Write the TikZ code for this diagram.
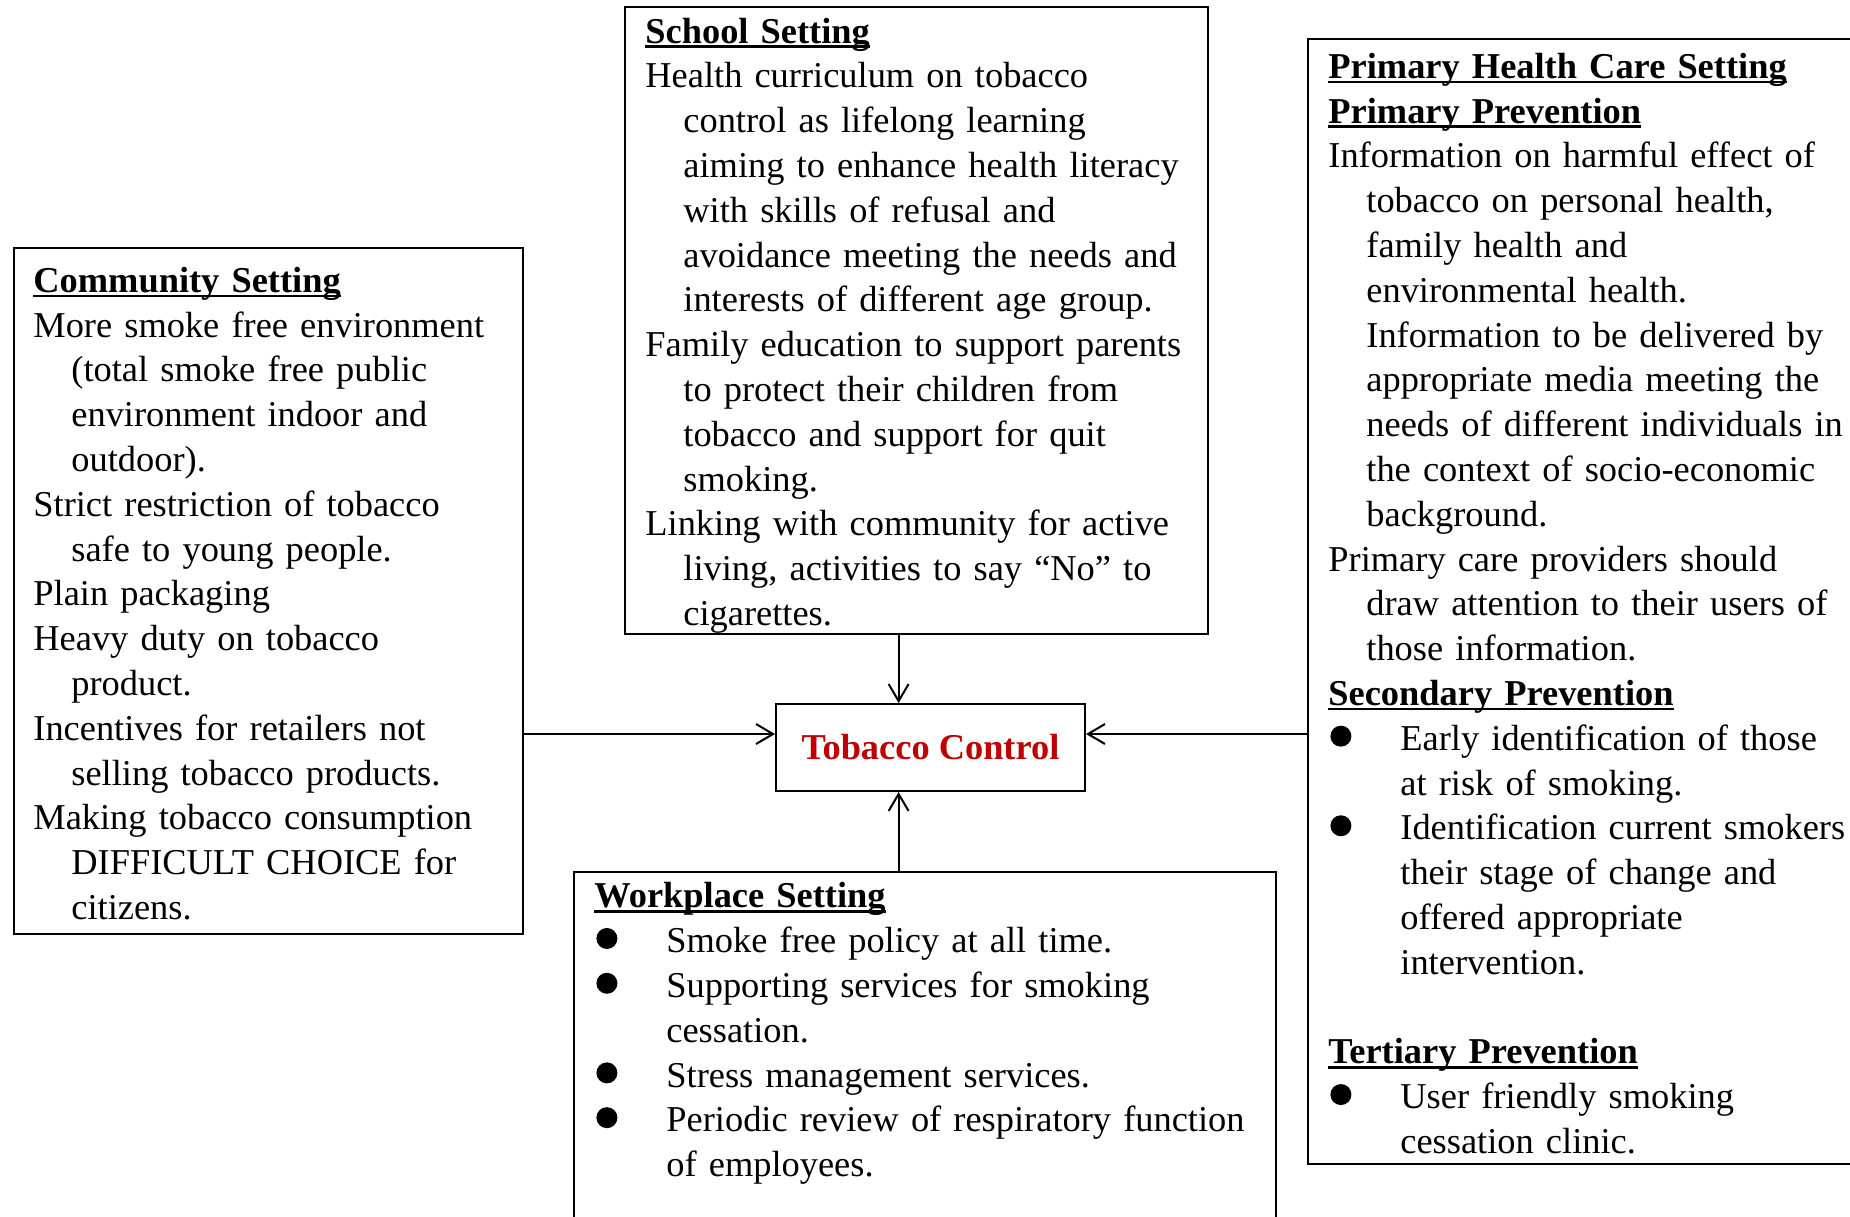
\documentclass[tikz,border=0pt]{standalone}
\usepackage{fontspec}
\setmainfont{Liberation Serif}
\usetikzlibrary{arrows.meta,fit}
\definecolor{tcred}{RGB}{192,0,0}
\newcommand\bodyfont{\fontsize{18.2pt}{22.4pt}\selectfont\setlength\parindent{0pt}}
\newcommand\ind{\hspace*{19pt}}
\newcommand\bind{\hspace*{36pt}}
\newcommand\bul{\leavevmode\makebox[36pt][l]{\hspace{1pt}\tikz[baseline=0pt]\fill (5.25pt,7.1pt) circle[radius=5.25pt];}}
\newsavebox\hdbox
\newcommand\uhead[1]{\leavevmode\sbox\hdbox{\bfseries #1}\rlap{\rule[-2.4pt]{\wd\hdbox}{1.3pt}}\usebox\hdbox}
\begin{document}
\begin{tikzpicture}[x=0.5pt,y=-0.5pt,
  box/.style={draw, line width=1pt, inner sep=0pt},
  txt/.style={anchor=north west, inner sep=0pt, align=left, text width=360pt, font=\bodyfont},
  arr/.style={-{Straight Barb[length=8.5pt,width=10pt]}, line width=1pt}]
\useasboundingbox (0,0) rectangle (1850,1216);

% boxes
\node[box, fit={(14,248) (523,934)}] (comm) {};
\node[box, fit={(625,7) (1208,634)}] (school) {};
\node[box, fit={(1308,39) (1858,1164)}] (phc) {};
\node[box, fit={(574,872) (1276,1230)}] (work) {};
\node[box, fit={(776,704) (1085,791)}] (tc) {};
\node[font=\bodyfont\bfseries, text=tcred, inner sep=0pt] (tclabel) at (tc.center) {Tobacco Control};

% texts
\node[txt] (commtxt) at (33,260.6) {\strut\uhead{Community Setting}\\
More smoke free environment\\
\ind(total smoke free public\\
\ind environment indoor and\\
\ind outdoor).\\
Strict restriction of tobacco\\
\ind safe to young people.\\
Plain packaging\\
Heavy duty on tobacco\\
\ind product.\\
Incentives for retailers not\\
\ind selling tobacco products.\\
Making tobacco consumption\\
\ind DIFFICULT CHOICE for\\
\ind citizens.};

\node[txt] (schooltxt) at (645,11.3) {\strut\uhead{School Setting}\\
Health curriculum on tobacco\\
\ind control as lifelong learning\\
\ind aiming to enhance health literacy\\
\ind with skills of refusal and\\
\ind avoidance meeting the needs and\\
\ind interests of different age group.\\
Family education to support parents\\
\ind to protect their children from\\
\ind tobacco and support for quit\\
\ind smoking.\\
Linking with community for active\\
\ind living, activities to say “No” to\\
\ind cigarettes.};

\node[txt] (phctxt) at (1328,46.6) {\strut\uhead{Primary Health Care Setting}\\
\uhead{Primary Prevention}\\
Information on harmful effect of\\
\ind tobacco on personal health,\\
\ind family health and\\
\ind environmental health.\\
\ind Information to be delivered by\\
\ind appropriate media meeting the\\
\ind needs of different individuals in\\
\ind the context of socio-economic\\
\ind background.\\
Primary care providers should\\
\ind draw attention to their users of\\
\ind those information.\\
\uhead{Secondary Prevention}\\
\bul Early identification of those\\
\bind at risk of smoking.\\
\bul Identification current smokers\\
\bind their stage of change and\\
\bind offered appropriate\\
\bind intervention.\\
\strut\\
\uhead{Tertiary Prevention}\\
\bul User friendly smoking\\
\bind cessation clinic.};

\node[txt] (worktxt) at (594,876.1) {\strut\uhead{Workplace Setting}\\
\bul Smoke free policy at all time.\\
\bul Supporting services for smoking\\
\bind cessation.\\
\bul Stress management services.\\
\bul Periodic review of respiratory function\\
\bind of employees.};

% connectors
\coordinate (ay) at (0,734);
\coordinate (ax) at (898.6,0);
\draw[arr] (comm.east |- ay) -- (tc.west |- ay);
\draw[arr] (phc.west |- ay) -- (tc.east |- ay);
\draw[arr] (school.south -| ax) -- (tc.north -| ax);
\draw[arr] (work.north -| ax) -- (tc.south -| ax);
\end{tikzpicture}
\end{document}
